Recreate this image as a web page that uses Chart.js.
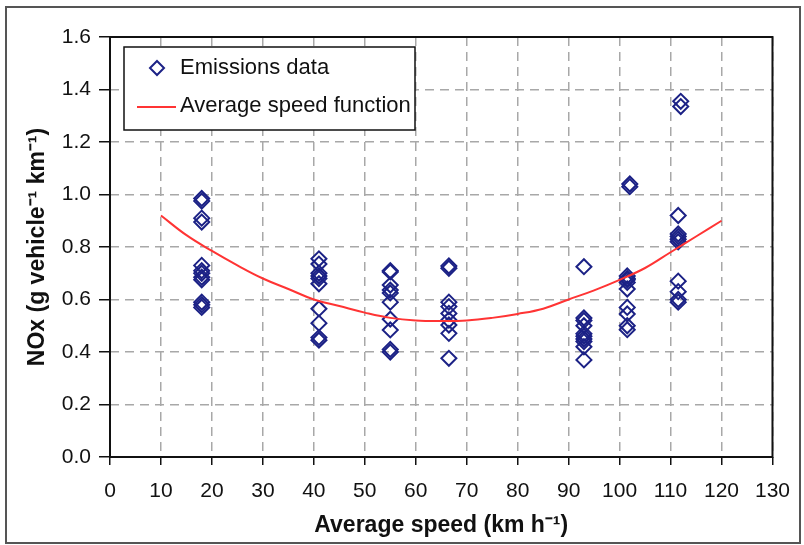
<!DOCTYPE html>
<html>
<head>
<meta charset="utf-8">
<script src="https://cdn.jsdelivr.net/npm/chart.js@4.4.0/dist/chart.umd.min.js"></script>
<style>
  html, body { margin: 0; padding: 0; background: #fff; }
  #wrap { width: 804px; height: 545px; }
</style>
</head>
<body>
<div id="wrap"><canvas id="noxChart" width="804" height="545"></canvas></div>
<script>
// Emissions data (speed in km/h, NOx in g/vehicle/km)
const emissionSpeed = [
  18, 18, 18, 18, 18, 18, 18, 18, 18, 18, 18, 18,
  41, 41, 41, 41, 41, 41, 41, 41, 41, 41,
  55, 55, 55, 55, 55, 55, 55, 55, 55, 55,
  66.5, 66.5, 66.5, 66.5, 66.5, 66.5, 66.5, 66.5, 66.5,
  93, 93, 93, 93, 93, 93, 93, 93, 93, 93,
  102, 102, 101.5, 101.5, 101.5, 101.5, 101.5, 101.5, 101.5, 101.5, 101.5,
  112, 112, 111.5, 111.5, 111.5, 111.5, 111.5, 111.5, 111.5, 111.5, 111.5
];
const emissionNOx = [
  0.985, 0.975, 0.91, 0.895, 0.73, 0.71, 0.70, 0.685, 0.675, 0.59, 0.58, 0.57,
  0.755, 0.735, 0.70, 0.69, 0.68, 0.66, 0.565, 0.51, 0.455, 0.445,
  0.71, 0.705, 0.655, 0.636, 0.625, 0.59, 0.525, 0.484, 0.41, 0.40,
  0.728, 0.719, 0.59, 0.573, 0.547, 0.522, 0.503, 0.471, 0.376,
  0.725, 0.53, 0.52, 0.50, 0.47, 0.46, 0.45, 0.44, 0.42, 0.37,
  1.04, 1.03, 0.69, 0.68, 0.675, 0.665, 0.64, 0.57, 0.545, 0.50, 0.485,
  1.355, 1.335, 0.92, 0.85, 0.84, 0.83, 0.82, 0.67, 0.63, 0.60, 0.59
];

// Average speed function
const curveSpeed = [10, 15, 20, 25, 30, 35, 40, 45, 50, 55, 60, 65, 70, 75, 80, 85, 90, 95, 100, 105, 110, 115, 120];
const curveNOx = [0.92, 0.845, 0.785, 0.73, 0.68, 0.64, 0.60, 0.575, 0.55, 0.53, 0.52, 0.518, 0.52, 0.53, 0.545, 0.565, 0.60, 0.635, 0.675, 0.72, 0.78, 0.84, 0.90];

const FONT = "'Liberation Sans', Arial, sans-serif";
const TICK_FONT = "'Liberation Sans Narrow', 'Arial Narrow', 'Liberation Sans', sans-serif";
const MARKER_COLOR = '#1c2286';
const LINE_COLOR = '#ff3434';

/**
 * Outer frame, plot border and boxed legend
 */
const framePlugin = {
  id: 'frames',
  beforeDraw(chart) {
    const ctx = chart.ctx;
    ctx.save();
    ctx.fillStyle = '#fff';
    ctx.fillRect(0, 0, chart.width, chart.height);
    ctx.strokeStyle = '#555';
    ctx.lineWidth = 2;
    ctx.strokeRect(6, 7, chart.width - 10, chart.height - 9);
    ctx.restore();
  },
  afterDatasetsDraw(chart) {
    const ctx = chart.ctx;
    const a = chart.chartArea;
    ctx.save();
    ctx.strokeStyle = '#111';
    ctx.lineWidth = 2;
    ctx.strokeRect(a.left, a.top, a.right - a.left, a.bottom - a.top);

    // legend box
    const lx = a.left + 14, ly = a.top + 10, lw = 291, lh = 83;
    ctx.fillStyle = '#fff';
    ctx.fillRect(lx, ly, lw, lh);
    ctx.lineWidth = 1.5;
    ctx.strokeStyle = '#111';
    ctx.strokeRect(lx, ly, lw, lh);

    // diamond marker
    const dx = lx + 33, dy = ly + 21;
    ctx.strokeStyle = MARKER_COLOR;
    ctx.lineWidth = 2;
    ctx.beginPath();
    ctx.moveTo(dx, dy - 7);
    ctx.lineTo(dx + 7, dy);
    ctx.lineTo(dx, dy + 7);
    ctx.lineTo(dx - 7, dy);
    ctx.closePath();
    ctx.stroke();

    // line sample
    ctx.strokeStyle = LINE_COLOR;
    ctx.lineWidth = 2;
    ctx.beginPath();
    ctx.moveTo(lx + 13, ly + 60);
    ctx.lineTo(lx + 52, ly + 60);
    ctx.stroke();

    ctx.fillStyle = '#111';
    ctx.font = '22px ' + FONT;
    ctx.textBaseline = 'middle';
    ctx.fillText('Emissions data', lx + 56, dy);
    ctx.fillText('Average speed function', lx + 56, ly + 59);
    ctx.restore();
  }
};

const emissionPoints = emissionSpeed.map((s, i) => ({ x: s, y: emissionNOx[i] }));
const curvePoints = curveSpeed.map((s, i) => ({ x: s, y: curveNOx[i] }));

const ctx = document.getElementById('noxChart').getContext('2d');
new Chart(ctx, {
  type: 'scatter',
  data: {
    datasets: [
      {
        label: 'Average speed function',
        data: curvePoints,
        showLine: true,
        borderColor: LINE_COLOR,
        borderWidth: 2,
        pointRadius: 0,
        tension: 0.4,
        fill: false
      },
      {
        label: 'Emissions data',
        data: emissionPoints,
        pointStyle: 'rectRot',
        pointRadius: 7.5,
        borderColor: MARKER_COLOR,
        backgroundColor: 'rgba(0,0,0,0)',
        borderWidth: 2
      }
    ]
  },
  plugins: [framePlugin],
  options: {
    responsive: false,
    animation: false,
    devicePixelRatio: 1,
    layout: { padding: { left: 8, top: 37, right: 22, bottom: 6 } },
    plugins: {
      legend: { display: false },
      tooltip: { enabled: false }
    },
    scales: {
      x: {
        type: 'linear',
        min: 0,
        max: 130,
        afterFit: (scale) => { scale.height = 82; },
        ticks: {
          stepSize: 10,
          color: '#111',
          padding: 14,
          font: { family: TICK_FONT, size: 21 }
        },
        grid: {
          color: '#a8a8a8',
          lineWidth: 1.5,
          tickColor: '#111',
          tickLength: 8
        },
        border: { display: false, dash: [9, 6] },
        title: {
          display: true,
          text: 'Average speed (km h\u207B\u00B9)',
          color: '#111',
          padding: { top: 0, bottom: 0 },
          font: { family: FONT, size: 23, weight: 'bold' }
        }
      },
      y: {
        min: 0,
        max: 1.6,
        afterFit: (scale) => { scale.width = 102; },
        ticks: {
          stepSize: 0.2,
          color: '#111',
          padding: 8,
          font: { family: TICK_FONT, size: 21 },
          callback: (v) => v.toFixed(1)
        },
        grid: {
          color: '#a8a8a8',
          lineWidth: 1.5,
          tickColor: '#111',
          tickLength: 11
        },
        border: { display: false, dash: [9, 6] },
        title: {
          display: true,
          text: 'NOx (g vehicle\u207B\u00B9 km\u207B\u00B9)',
          color: '#111',
          padding: { top: 16, bottom: 0 },
          font: { family: FONT, size: 23, weight: 'bold' }
        }
      }
    }
  }
});
</script>
</body>
</html>
